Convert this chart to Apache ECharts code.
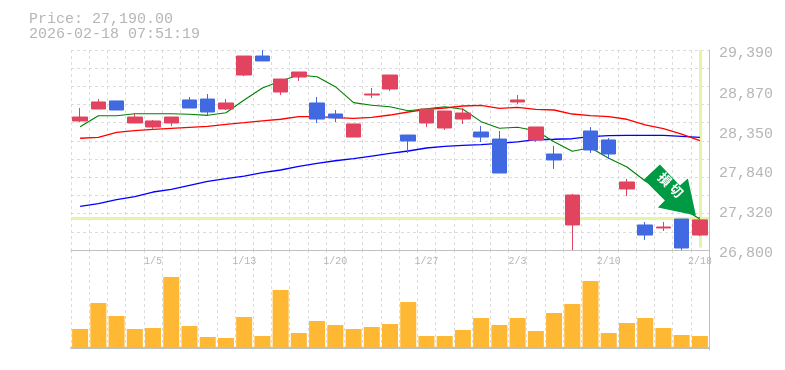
<!DOCTYPE html>
<html><head><meta charset="utf-8">
<style>html,body{margin:0;padding:0;background:#fff}#c{width:785px;height:370px}</style>
<script src="https://cdn.jsdelivr.net/npm/echarts@6/dist/echarts.min.js"></script>
</head><body><div id="c"></div>
<script>
const categories = ['12/25','12/26','12/29','12/30','1/5','1/6','1/7','1/8','1/9','1/13','1/14','1/15','1/16','1/19','1/20','1/21','1/22','1/23','1/26','1/27','1/28','1/29','1/30','2/2','2/3','2/4','2/5','2/6','2/9','2/10','2/12','2/13','2/16','2/17','2/18'];
const xTickLabels = ['1/5','1/13','1/20','1/27','2/3','2/10','2/18'];
const priceTicks = [29390,28870,28350,27840,27320,26800];
const priceMin = 26800, priceMax = 29390, lastPrice = 27190;
// open, close, low, high
const candles = [
[28471,28522,28458,28639],[28626,28717,28626,28755],[28730,28613,28613,28730],[28445,28522,28445,28570],
[28393,28471,28360,28484],[28445,28522,28406,28522],[28743,28639,28639,28781],[28755,28587,28548,28820],
[28626,28704,28613,28755],[29066,29312,29053,29312],[29312,29248,29248,29390],[28846,29014,28807,29014],
[29040,29105,28989,29105],[28704,28496,28445,28781],[28561,28509,28458,28613],[28263,28432,28263,28432],
[28807,28820,28768,28898],[28885,29066,28859,29066],[28289,28212,28056,28289],[28445,28626,28393,28626],
[28380,28600,28354,28600],[28496,28574,28432,28639],[28328,28263,28199,28406],[28237,27797,27797,28341],
[28717,28743,28691,28807],[28225,28393,28199,28393],[28043,27966,27849,28147],[27124,27512,26800,27525],
[28341,28095,28056,28393],[28225,28043,27978,28250],[27590,27681,27499,27720],[27124,26994,26930,27163],
[27085,27098,27046,27163],[27201,26826,26800,27201],[26994,27190,26981,27227]];
const maGreen = [28397,28539,28539,28565,28565,28565,28557,28544,28578,28743,28898,28989,29066,29044,28915,28708,28674,28656,28604,28630,28656,28622,28462,28376,28389,28345,28202,28078,28125,27988,27875,27694,27551,27344,27201];
const maRed = [28247,28259,28324,28345,28363,28376,28389,28402,28428,28449,28471,28493,28526,28526,28513,28505,28518,28548,28587,28622,28639,28665,28674,28635,28648,28622,28613,28561,28539,28526,28493,28419,28371,28302,28215];
const maBlue = [27366,27400,27451,27490,27551,27586,27638,27690,27723,27758,27801,27836,27884,27923,27956,27982,28017,28052,28082,28121,28143,28156,28164,28182,28199,28228,28234,28241,28267,28280,28285,28285,28285,28272,28259];
const volumes = [19,45,32,19,20,71,22,11,10,31,12,58,15,27,23,19,21,24,46,12,12,18,30,23,30,17,35,44,67,15,25,30,20,13,12];

const GREY='#c0c0c0', TEXT='#b6b6b6', GRID='#dcdcdc', MONO='"Liberation Mono",monospace';
const fmt = v => v.toString().replace(/\B(?=(\d{3})+$)/g, ',');
const chart = echarts.init(document.getElementById('c'), null, {renderer:'canvas'});
const gridLine = {show:true, lineStyle:{color:GRID, type:[3,3], width:1}};
chart.setOption({
  animation:false,
  backgroundColor:'#fff',
  title:{left:29,top:12,padding:0,itemGap:0,
    text:'Price: '+lastPrice.toLocaleString('en-US',{minimumFractionDigits:2})+'\n2026-02-18 07:51:19',
    textStyle:{fontFamily:MONO,fontSize:15,fontWeight:'normal',color:TEXT,lineHeight:15}},
  grid:[{left:71,right:76,top:50,height:200},{left:71,right:76,top:250,height:100}],
  xAxis:[
    {type:'category',gridIndex:0,data:categories,boundaryGap:true,
     axisLine:{show:true,lineStyle:{color:GREY,width:1}},axisTick:{show:false},
     splitLine:Object.assign({interval:0},gridLine),
     axisLabel:{show:true,interval:(i,v)=>xTickLabels.includes(v),fontFamily:MONO,fontSize:10,color:TEXT,margin:6,hideOverlap:false}},
    {type:'category',gridIndex:1,data:categories,boundaryGap:true,
     axisLine:{show:true,lineStyle:{color:GREY,width:2}},axisTick:{show:false},axisLabel:{show:false},
     splitLine:Object.assign({interval:0},gridLine)}
  ],
  yAxis:[
    {type:'value',gridIndex:0,position:'right',min:priceMin,max:priceMax,scale:true,
     axisLine:{show:true,lineStyle:{color:GREY,width:1}},axisTick:{show:false},splitLine:{show:false},
     axisLabel:{customValues:priceTicks,formatter:fmt,fontFamily:MONO,fontSize:15,color:TEXT,margin:10,verticalAlign:'top',lineHeight:7}},
    {type:'value',gridIndex:0,position:'left',min:0,max:11,interval:1,
     axisLine:{show:false},axisTick:{show:false},axisLabel:{show:false},splitLine:gridLine},
    {type:'value',gridIndex:1,position:'right',min:-2,max:98,
     axisLine:{show:true,lineStyle:{color:GREY,width:1}},axisTick:{show:false},axisLabel:{show:false},splitLine:{show:false}}
  ],
  series:[
    {type:'line',name:'guides',xAxisIndex:0,yAxisIndex:0,data:[],z:1,silent:true,
     markLine:{silent:true,z:1,symbol:'none',animation:false,label:{show:false},
       lineStyle:{color:'#e4f5a8',width:3,type:'solid'},
       data:[
         [{coord:[categories[0],lastPrice+15],x:71},{coord:[categories[34],lastPrice+15],x:709}],
         [{coord:[categories[34],priceMax]},{coord:[categories[34],26830]}]
       ]}},
    {type:'line',name:'ma1',data:maBlue,xAxisIndex:0,yAxisIndex:0,symbol:'none',z:2,lineStyle:{color:'#0000ff',width:1.3}},
    {type:'line',name:'ma2',data:maRed,xAxisIndex:0,yAxisIndex:0,symbol:'none',z:2,lineStyle:{color:'#ff0000',width:1.3}},
    {type:'line',name:'ma3',data:maGreen,xAxisIndex:0,yAxisIndex:0,symbol:'none',z:2,lineStyle:{color:'#008000',width:1.1}},
    {type:'candlestick',name:'price',data:candles,xAxisIndex:0,yAxisIndex:0,barWidth:15,z:4,clip:false,
     itemStyle:{color:'#e2435f',color0:'#4169e1',borderColor:'#e2435f',borderColor0:'#4169e1',borderWidth:1},
     markPoint:{silent:true,z:6,animation:false,
       data:[{coord:[categories[34],lastPrice],
         symbol:'path://M16 0L0 15L21 36L14 43L52 51L44 14L36 21Z',
         symbolSize:[52,51],symbolOffset:[-30,-30],
         itemStyle:{color:'#009944'},
         label:{show:true,position:'inside',formatter:'損 切',rotate:-45,offset:[-3,-4],
           color:'#fff',fontFamily:'"Noto Sans CJK JP"',fontSize:13,fontWeight:'bold'}}]}},
    {type:'bar',name:'volume',data:volumes,xAxisIndex:1,yAxisIndex:2,barWidth:16,z:3,itemStyle:{color:'#ffb833'}}
  ]
});
</script></body></html>
